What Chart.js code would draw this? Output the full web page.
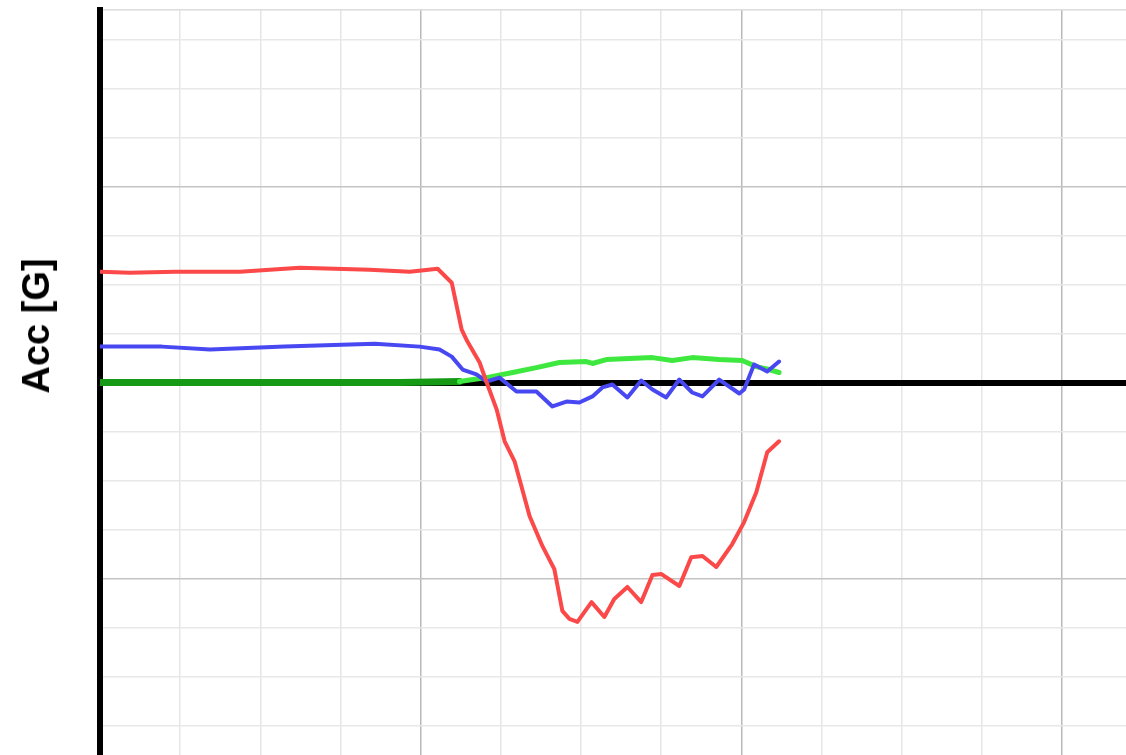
<!DOCTYPE html>
<html>
<head>
<meta charset="utf-8">
<script src="https://cdn.jsdelivr.net/npm/chart.js@4"></script>
<style>
    html, body { margin: 0; padding: 0; background: #fff; overflow: hidden; }
    #wrap { position: relative; width: 1126px; height: 755px; }
    #acc-chart { position: absolute; left: 0; top: 0; }
    #y-title {
        position: absolute; left: 36px; top: 326px;
        transform: translate(-50%, -50%) rotate(-90deg);
        font: bold 38px "Liberation Sans", Arial, sans-serif;
        line-height: 1; white-space: nowrap; color: #000;
    }
</style>
</head>
<body>
<div id="wrap">
    <canvas id="acc-chart" width="1126" height="755"></canvas>
    <div id="y-title">Acc [G]</div>
</div>
<script>
// 読み取った値 (時間[s] / 加速度[G])
const redTime = [0, 0.093, 0.234, 0.436, 0.623, 0.841, 0.966, 1.053, 1.097, 1.128, 1.146, 1.184, 1.206, 1.237, 1.262, 1.293, 1.340, 1.380, 1.417, 1.442, 1.464, 1.489, 1.533, 1.573, 1.604, 1.645, 1.688, 1.723, 1.751, 1.807, 1.844, 1.879, 1.922, 1.972, 2.009, 2.047, 2.081, 2.118];
const redAcc  = [0.565, 0.560, 0.565, 0.565, 0.585, 0.575, 0.565, 0.580, 0.509, 0.270, 0.209, 0.102, 0, -0.137, -0.300, -0.402, -0.682, -0.835, -0.952, -1.165, -1.206, -1.221, -1.120, -1.196, -1.104, -1.043, -1.120, -0.982, -0.977, -1.038, -0.891, -0.885, -0.941, -0.824, -0.712, -0.560, -0.356, -0.300];

const blueTime = [0, 0.193, 0.343, 0.576, 0.857, 0.997, 1.059, 1.097, 1.131, 1.174, 1.206, 1.246, 1.299, 1.361, 1.411, 1.455, 1.495, 1.536, 1.567, 1.598, 1.645, 1.688, 1.723, 1.766, 1.807, 1.847, 1.879, 1.931, 1.994, 2.009, 2.040, 2.081, 2.118];
const blueAcc  = [0.183, 0.183, 0.168, 0.183, 0.198, 0.183, 0.168, 0.132, 0.066, 0.041, 0.005, 0.025, -0.046, -0.046, -0.122, -0.097, -0.102, -0.071, -0.025, -0.010, -0.076, 0.010, -0.036, -0.076, 0.015, -0.051, -0.071, 0.015, -0.056, -0.036, 0.092, 0.056, 0.107];

const greenTime = [0, 0.467, 0.935, 1.121, 1.206, 1.287, 1.361, 1.433, 1.517, 1.536, 1.579, 1.723, 1.785, 1.847, 1.931, 2.003, 2.047, 2.087, 2.118];
const greenAcc  = [0, 0, 0, 0.005, 0.025, 0.051, 0.076, 0.102, 0.107, 0.097, 0.117, 0.127, 0.112, 0.127, 0.117, 0.112, 0.081, 0.066, 0.051];

// グリッド (目盛ラベルは無し)
const xGridTicks = [0, 0.25, 0.5, 0.75, 1, 1.25, 1.5, 1.75, 2, 2.25, 2.5, 2.75, 3];
const yGridTicks = [-1.75, -1.5, -1.25, -1, -0.75, -0.5, -0.25, 0, 0.25, 0.5, 0.75, 1, 1.25, 1.5, 1.75, 1.9];

const toPoints = (xs, ys) => xs.map((x, i) => ({ x, y: ys[i] }));

const ctx = document.getElementById('acc-chart').getContext('2d');
new Chart(ctx, {
    type: 'line',
    data: {
        datasets: [
            { data: toPoints(redTime, redAcc), borderColor: '#fb4848', borderWidth: 4 },
            { data: toPoints(blueTime, blueAcc), borderColor: '#4848f2', borderWidth: 4 },
            {
                data: toPoints(greenTime, greenAcc),
                borderColor: '#3ee83e',
                borderWidth: 5,
                segment: {
                    // ゼロ線と重なる区間は濃い緑
                    borderColor: c => (c.p0.parsed.y === 0 && c.p1.parsed.y < 0.01) ? '#169a16' : undefined,
                    borderWidth: c => (c.p0.parsed.y === 0 && c.p1.parsed.y < 0.01) ? 7 : undefined
                }
            }
        ]
    },
    options: {
        responsive: false,
        animation: false,
        layout: { padding: { left: 100, top: 10, right: 0, bottom: 0 } },
        elements: {
            point: { radius: 0 },
            line: { tension: 0, borderJoinStyle: 'round', borderCapStyle: 'round' }
        },
        plugins: {
            legend: { display: false },
            tooltip: { enabled: false }
        },
        scales: {
            x: {
                type: 'linear',
                min: 0,
                max: 3.2,
                afterBuildTicks: axis => { axis.ticks = xGridTicks.map(v => ({ value: v })); },
                ticks: { display: false },
                border: { display: false },
                grid: {
                    drawTicks: false,
                    lineWidth: 1.5,
                    color: c => {
                        const v = c.tick.value;
                        if (v === 0) return 'rgba(0,0,0,0)';
                        return Number.isInteger(v) ? '#b9b9b9' : '#e6e6e6';
                    }
                }
            },
            y: {
                min: -1.9,
                max: 1.9,
                afterBuildTicks: axis => { axis.ticks = yGridTicks.map(v => ({ value: v })); },
                ticks: { display: false },
                border: { display: true, color: '#000', width: 6 },
                grid: {
                    drawTicks: false,
                    lineWidth: c => c.tick.value === 0 ? 6 : 1.5,
                    color: c => {
                        const v = c.tick.value;
                        if (v === 0) return '#000';
                        if (v === 1.9) return '#dcdcdc';
                        return Number.isInteger(v) ? '#c4c4c4' : '#e8e8e8';
                    }
                }
            }
        }
    }
});
</script>
</body>
</html>
